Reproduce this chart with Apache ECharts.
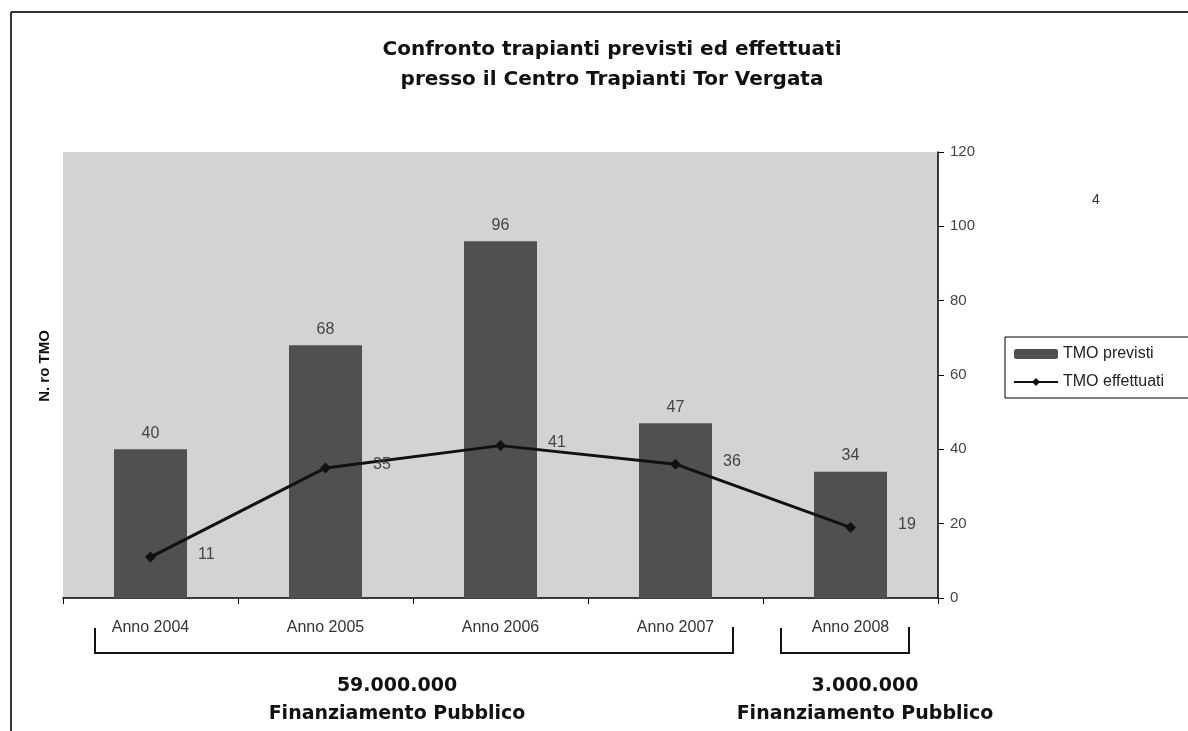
<!DOCTYPE html>
<html>
<head>
<meta charset="utf-8">
<script src="https://cdn.jsdelivr.net/npm/echarts@6/dist/echarts.min.js"></script>
<style>
  html, body { margin: 0; padding: 0; background: #fff; }
  #chart { width: 1188px; height: 731px; }
</style>
</head>
<body>
<div id="chart"></div>
<script>
// dati
const anni = ["Anno 2004", "Anno 2005", "Anno 2006", "Anno 2007", "Anno 2008"];
const tmoPrevisti = [40, 68, 96, 47, 34];
const tmoEffettuati = [11, 35, 41, 36, 19];
const yTicks = [0, 20, 40, 60, 80, 100, 120];

const font = "Liberation Sans, Arial, sans-serif";
const fontWide = "DejaVu Sans, sans-serif";
const chart = echarts.init(document.getElementById("chart"));

const option = {
  animation: false,
  backgroundColor: "#fff",
  title: {
    text: "Confronto trapianti previsti ed effettuati\npresso il Centro Trapianti Tor Vergata",
    left: 607,
    top: 30,
    textAlign: "center",
    textStyle: {
      fontFamily: fontWide,
      fontSize: 20,
      fontWeight: "bold",
      color: "#111",
      lineHeight: 30
    }
  },
  legend: {
    orient: "vertical",
    left: 1005,
    top: 337,
    padding: [9, 40, 8, 8],
    itemGap: 12,
    itemWidth: 44,
    itemHeight: 10,
    borderColor: "#000",
    borderWidth: 1,
    backgroundColor: "#fff",
    textStyle: { fontFamily: font, fontSize: 16, color: "#222" },
    data: ["TMO previsti", "TMO effettuati"]
  },
  grid: {
    left: 63,
    right: 250,
    top: 152,
    bottom: 133,
    show: true,
    backgroundColor: "#d3d3d3",
    borderWidth: 0
  },
  xAxis: {
    type: "category",
    data: anni,
    axisLine: { lineStyle: { color: "#000", width: 1.5 } },
    axisTick: { show: true, length: 6, lineStyle: { color: "#000" } },
    axisLabel: {
      margin: 22,
      fontFamily: font,
      fontSize: 16,
      color: "#333"
    }
  },
  yAxis: {
    type: "value",
    position: "right",
    min: yTicks[0],
    max: yTicks[yTicks.length - 1],
    interval: 20,
    splitLine: { show: false },
    axisLine: { show: true, lineStyle: { color: "#000", width: 1.5 } },
    axisTick: { show: true, length: 6, lineStyle: { color: "#000" } },
    axisLabel: { margin: 12, fontFamily: font, fontSize: 15, color: "#444" }
  },
  series: [
    {
      name: "TMO previsti",
      type: "bar",
      data: tmoPrevisti,
      barWidth: 73,
      itemStyle: { color: "#505050" },
      label: {
        show: true,
        position: "top",
        distance: 8,
        fontFamily: font,
        fontSize: 16,
        color: "#444"
      }
    },
    {
      name: "TMO effettuati",
      type: "line",
      data: tmoEffettuati,
      symbol: "diamond",
      symbolSize: 11,
      lineStyle: { color: "#111", width: 3 },
      itemStyle: { color: "#111" },
      label: {
        show: true,
        position: "right",
        distance: 42,
        offset: [0, -3],
        fontFamily: font,
        fontSize: 16,
        color: "#444"
      }
    }
  ],
  graphic: [
    // cornice
    { type: "line", shape: { x1: 11, y1: 12, x2: 1188, y2: 12 }, style: { stroke: "#333", lineWidth: 2 } },
    { type: "line", shape: { x1: 11, y1: 12, x2: 11, y2: 731 }, style: { stroke: "#333", lineWidth: 2 } },
    // nome asse
    {
      type: "text",
      x: 45,
      y: 366,
      rotation: Math.PI / 2,
      style: {
        text: "N. ro TMO",
        fontFamily: font,
        fontSize: 15,
        fontWeight: "bold",
        fill: "#111",
        align: "center",
        verticalAlign: "middle"
      }
    },
    {
      type: "text",
      x: 1096,
      y: 200,
      style: { text: "4", fontFamily: font, fontSize: 14, fill: "#333", align: "center", verticalAlign: "middle" }
    },
    // parentesi finanziamento
    {
      type: "polyline",
      shape: { points: [[95, 628], [95, 653], [733, 653], [733, 627]] },
      style: { stroke: "#111", lineWidth: 2, fill: null }
    },
    {
      type: "polyline",
      shape: { points: [[781, 628], [781, 653], [909, 653], [909, 627]] },
      style: { stroke: "#111", lineWidth: 2, fill: null }
    },
    {
      type: "text",
      x: 397,
      y: 700,
      style: {
        text: "59.000.000\nFinanziamento Pubblico",
        fontFamily: fontWide,
        fontSize: 19,
        fontWeight: "bold",
        fill: "#111",
        align: "center",
        verticalAlign: "middle",
        lineHeight: 28
      }
    },
    {
      type: "text",
      x: 865,
      y: 700,
      style: {
        text: "3.000.000\nFinanziamento Pubblico",
        fontFamily: fontWide,
        fontSize: 19,
        fontWeight: "bold",
        fill: "#111",
        align: "center",
        verticalAlign: "middle",
        lineHeight: 28
      }
    }
  ]
};

chart.setOption(option);
window.addEventListener("resize", () => chart.resize());
</script>
</body>
</html>
